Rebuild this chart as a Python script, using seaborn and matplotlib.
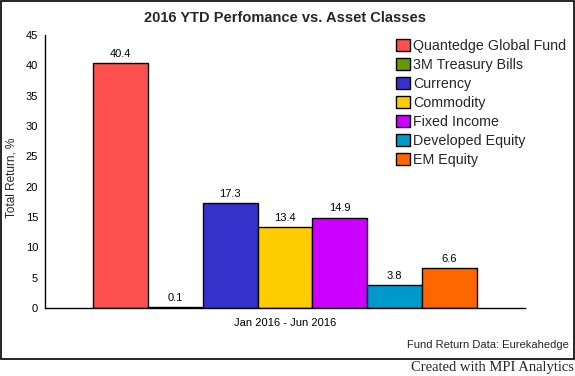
import matplotlib
matplotlib.use("Agg")
import matplotlib.pyplot as plt
import seaborn as sns
import pandas as pd
from matplotlib.patches import Rectangle, Patch

# data
assets = ["Quantedge Global Fund", "3M Treasury Bills", "Currency", "Commodity",
          "Fixed Income", "Developed Equity", "EM Equity"]
returns = [40.4, 0.1, 17.3, 13.4, 14.9, 3.8, 6.6]
colors = ["#FF5050", "#669900", "#3333CC", "#FFCC00", "#CC00FF", "#0099CC", "#FF6600"]
period = "Jan 2016 - Jun 2016"
y_ticks = [0, 5, 10, 15, 20, 25, 30, 35, 40, 45]

df = pd.DataFrame({"period": [period] * len(assets), "asset": assets, "value": returns})

sns.set_style("white")
plt.rcParams["font.family"] = ["Liberation Sans", "DejaVu Sans"]

W, H = 575, 376
fig = plt.figure(figsize=(W / 100, H / 100), dpi=100)
ax = fig.add_axes([45 / W, 1 - 308 / H, 480 / W, 273 / H])

sns.barplot(data=df, x="period", y="value", hue="asset", palette=colors,
            edgecolor="black", linewidth=1.0, saturation=1, ax=ax, legend=False)

# value labels on bars
for bar, v in zip(ax.patches, returns):
    ax.annotate(f"{v:.1f}", (bar.get_x() + bar.get_width() / 2, bar.get_height()),
                xytext=(0, 3), textcoords="offset points", ha="center", va="bottom",
                fontsize=8, color="black")

ax.set_xlim(-0.5, 0.5)
ax.set_ylim(0, 45)
ax.set_yticks(y_ticks)
ax.tick_params(axis="both", labelsize=8, length=4, width=1, color="black",
               labelcolor="black", direction="out", pad=1)
ax.tick_params(axis="x", pad=3)
ax.set_xlabel("")
ax.set_ylabel("Total Return, %", fontsize=8.5)
ax.yaxis.set_label_coords(-0.057, 0.476)
sns.despine(ax=ax)
for s in ["left", "bottom"]:
    ax.spines[s].set_color("black")
    ax.spines[s].set_linewidth(1.0)

handles = [Patch(facecolor=c, edgecolor="black", linewidth=1.0) for c in colors]
fig.legend(handles, assets, loc="upper left", bbox_to_anchor=(396 / W, 1 - 38.5 / H),
           frameon=False, fontsize=10.3, handlelength=1.0, handleheight=1.0,
           handletextpad=0.2, labelspacing=0.33, borderpad=0, borderaxespad=0)

fig.text(285 / W, 1 - 18 / H, "2016 YTD Perfomance vs. Asset Classes",
         ha="center", va="center", fontsize=10.5, fontweight="bold")
fig.text(569 / W, 1 - 345 / H, "Fund Return Data: Eurekahedge",
         ha="right", va="center", fontsize=8)
fig.text(574 / W, 1 - 367 / H, "Created with MPI Analytics",
         ha="right", va="center", fontsize=10.5, family=["Liberation Serif"])

# outer frame
fig.patches.append(Rectangle((1 / W, 1 - 359 / H), 573 / W, 358 / H,
                             transform=fig.transFigure, fill=False,
                             edgecolor="black", linewidth=1.2))

fig.savefig("out.png", dpi=100)
